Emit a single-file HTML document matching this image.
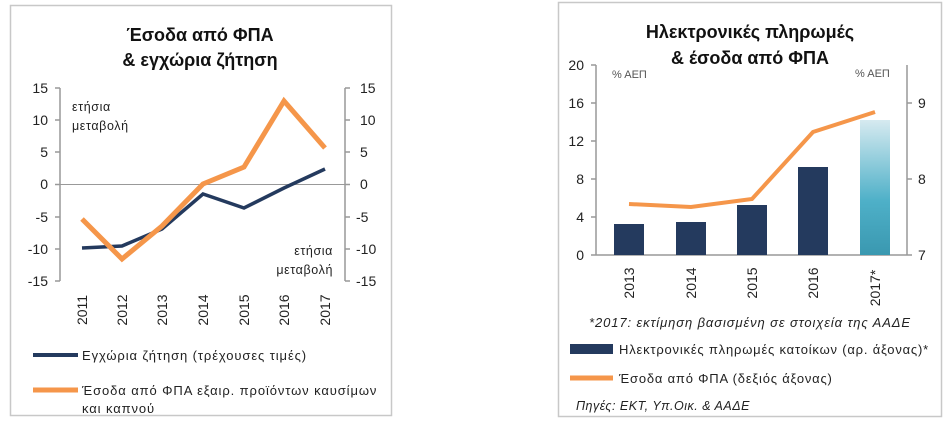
<!DOCTYPE html><html><head><meta charset="utf-8"><style>body{margin:0;background:#fff}svg text{font-family:"Liberation Sans","DejaVu Sans",sans-serif}</style></head><body>
<svg width="948" height="423" xmlns="http://www.w3.org/2000/svg">
<rect x="10.5" y="5.5" width="381" height="410" fill="none" stroke="#c8c8c8" stroke-width="1.5"/>
<rect x="558.5" y="2.5" width="383" height="414" fill="none" stroke="#c8c8c8" stroke-width="1.5"/>
<g font-weight="bold" font-size="18" text-anchor="middle" fill="#111"><text x="200" y="41">Έσοδα από ΦΠΑ</text><text x="200" y="66">&amp; εγχώρια ζήτηση</text>
<text x="750" y="38">Ηλεκτρονικές πληρωμές</text><text x="750" y="64">&amp; έσοδα από ΦΠΑ</text></g>
<!-- left chart -->
<g stroke="#999" stroke-width="1.5" fill="none"><path d="M60 88V281M55 88h5M55 120h5M55 152h5M55 184.5h5M55 217h5M55 249h5M55 281h5M345 88V281M345 88h5M345 120h5M345 152h5M345 184.5h5M345 217h5M345 249h5M345 281h5"/></g>
<line x1="60" y1="184.5" x2="345" y2="184.5" stroke="#999" stroke-width="1"/>
<g font-size="14" fill="#222" text-anchor="end"><text x="48" y="93">15</text><text x="48" y="125">10</text><text x="48" y="157">5</text><text x="48" y="189">0</text><text x="48" y="222">-5</text><text x="48" y="254">-10</text><text x="48" y="286">-15</text></g>
<g font-size="14" fill="#222"><text x="360" y="93">15</text><text x="360" y="125">10</text><text x="360" y="157">5</text><text x="360" y="189">0</text><text x="356" y="222">-5</text><text x="356" y="254">-10</text><text x="356" y="286">-15</text></g>
<g font-size="12.5" fill="#222" letter-spacing="0.6"><text x="72" y="111">ετήσια</text><text x="72" y="130">μεταβολή</text><text x="333" y="255" text-anchor="end">ετήσια</text><text x="333" y="274" text-anchor="end">μεταβολή</text></g>
<g font-size="14" fill="#222" text-anchor="middle"><text transform="translate(87,310) rotate(-90)">2011</text><text transform="translate(127,310) rotate(-90)">2012</text><text transform="translate(167,310) rotate(-90)">2013</text><text transform="translate(208,310) rotate(-90)">2014</text><text transform="translate(249,310) rotate(-90)">2015</text><text transform="translate(289,310) rotate(-90)">2016</text><text transform="translate(330,310) rotate(-90)">2017</text></g>
<polyline points="82,248 122,246 162,229 203,194 244,208 284,188 325,169" fill="none" stroke="#243a5e" stroke-width="3.5"/>
<polyline points="82,219 122,259 162,226 203,184 244,167 284,101 325,148" fill="none" stroke="#f5964a" stroke-width="5"/>
<line x1="33" y1="355" x2="78" y2="355" stroke="#243a5e" stroke-width="4"/>
<line x1="33" y1="390" x2="78" y2="390" stroke="#f5964a" stroke-width="5"/>
<g font-size="13" fill="#222" letter-spacing="0.9"><text x="82" y="360">Εγχώρια ζήτηση (τρέχουσες τιμές)</text><text x="82" y="395">Έσοδα από ΦΠΑ εξαιρ. προϊόντων καυσίμων</text><text x="82" y="413">και καπνού</text></g>
<!-- right chart -->
<defs><linearGradient id="g" x1="0" y1="0" x2="0" y2="1"><stop offset="0" stop-color="#d6eaf0"/><stop offset="0.6" stop-color="#4eb0c8"/><stop offset="1" stop-color="#3a98b0"/></linearGradient></defs>
<g stroke="#999" stroke-width="1.5" fill="none"><path d="M596 65V255M591 65h5M591 103h5M591 141h5M591 179h5M591 217h5M591 255h5M596 255H907M907 65V255M907 103h5M907 179h5M907 255h5"/></g>
<g font-size="14" fill="#222" text-anchor="end"><text x="584" y="70">20</text><text x="584" y="108">16</text><text x="584" y="146">12</text><text x="584" y="184">8</text><text x="584" y="222">4</text><text x="584" y="260">0</text></g>
<g font-size="14" fill="#222"><text x="918" y="108">9</text><text x="918" y="184">8</text><text x="918" y="260">7</text></g>
<g font-size="11" fill="#555"><text x="612" y="78">% ΑΕΠ</text><text x="855" y="77">% ΑΕΠ</text></g>
<g fill="#243a5e"><rect x="614" y="224" width="30" height="31"/><rect x="676" y="222" width="30" height="33"/><rect x="737" y="205" width="30" height="50"/><rect x="798" y="167" width="30" height="88"/></g>
<rect x="860" y="120" width="30" height="135" fill="url(#g)"/>
<polyline points="629,204 691,207 752,199 813,132 875,112" fill="none" stroke="#f5964a" stroke-width="4"/>
<g font-size="14" fill="#222" text-anchor="middle"><text transform="translate(634,283) rotate(-90)">2013</text><text transform="translate(696,283) rotate(-90)">2014</text><text transform="translate(757,283) rotate(-90)">2015</text><text transform="translate(818,283) rotate(-90)">2016</text><text transform="translate(880,288) rotate(-90)">2017*</text></g>
<text x="750" y="327" font-size="13" font-style="italic" fill="#222" text-anchor="middle" letter-spacing="0.9">*2017: εκτίμηση βασισμένη σε στοιχεία της ΑΑΔΕ</text>
<rect x="570" y="344" width="43" height="10" fill="#243a5e"/>
<line x1="570" y1="378" x2="613" y2="378" stroke="#f5964a" stroke-width="5"/>
<g font-size="13" fill="#222" letter-spacing="0.8"><text x="619" y="354">Ηλεκτρονικές πληρωμές κατοίκων (αρ. άξονας)*</text><text x="619" y="383">Έσοδα από ΦΠΑ (δεξιός άξονας)</text></g>
<text x="576" y="410" font-size="12.5" font-style="italic" fill="#222" letter-spacing="0.5">Πηγές: ΕΚΤ, Υπ.Οικ. &amp; ΑΑΔΕ</text>
</svg></body></html>
